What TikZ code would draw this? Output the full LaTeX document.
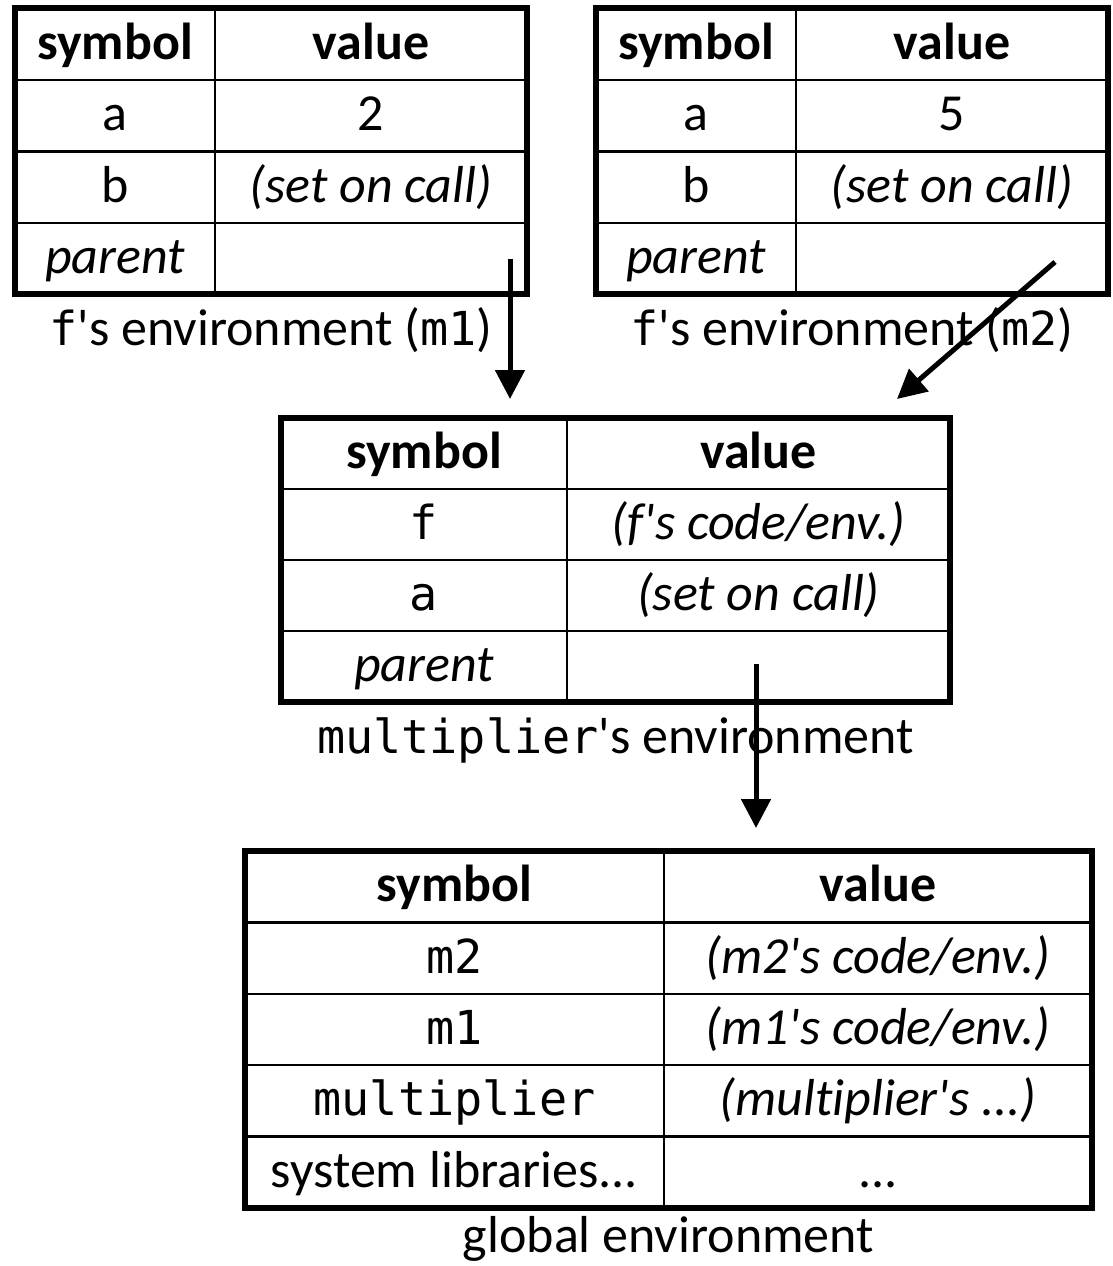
\documentclass[tikz,border=0pt]{standalone}
\usepackage{fontspec}
\setmainfont{Carlito}[Ligatures=NoCommon]
\setmonofont{DejaVu Sans Mono}[Scale=0.9]
\usepackage{tikz}
\usetikzlibrary{arrows.meta,positioning}
\newcommand{\envfont}{\fontsize{52pt}{60pt}\selectfont}
\newcommand{\sq}{\textquotesingle}

\begin{document}
\begin{tikzpicture}[x=1pt, y=-1pt,
    cell/.style={draw, line width=2.5pt, inner sep=0pt, outer sep=0pt,
        text height=38pt, text depth=8pt, font=\envfont},
    frame/.style={draw, line width=6pt},
    caption/.style={inner sep=0pt, anchor=base, font=\envfont},
    link/.style={-{Triangle[length=29pt, width=29pt]}, line width=5pt}
]
    \useasboundingbox (0,0) rectangle (1112,1266);

    % f's environment (m1)
    \begin{scope}[every node/.style={cell, minimum height=71.5pt}]
        \node[minimum width=200pt] (m1h1) at (115,44) {\bfseries symbol};
        \node[minimum width=312pt] (m1h2) at (371,44) {\bfseries value};
        \node[minimum width=200pt] (m1a1) at (115,115.5) {a};
        \node[minimum width=312pt] (m1a2) at (371,115.5) {2};
        \node[minimum width=200pt] (m1b1) at (115,187) {b};
        \node[minimum width=312pt] (m1b2) at (371,187) {\itshape (set on call)};
        \node[minimum width=200pt] (m1p1) at (115,258.5) {\itshape parent};
        \node[minimum width=312pt] (m1p2) at (371,258.5) {};
    \end{scope}
    \draw[frame] (m1h1.north west) rectangle (m1p2.south east);
    \node[caption] (m1cap) at (271,345) {\texttt{f}\sq s environment (\texttt{m1})};

    % f's environment (m2)
    \begin{scope}[every node/.style={cell, minimum height=71.5pt}]
        \node[minimum width=200pt] (m2h1) at (696,44) {\bfseries symbol};
        \node[minimum width=312pt] (m2h2) at (952,44) {\bfseries value};
        \node[minimum width=200pt] (m2a1) at (696,115.5) {a};
        \node[minimum width=312pt] (m2a2) at (952,115.5) {5};
        \node[minimum width=200pt] (m2b1) at (696,187) {b};
        \node[minimum width=312pt] (m2b2) at (952,187) {\itshape (set on call)};
        \node[minimum width=200pt] (m2p1) at (696,258.5) {\itshape parent};
        \node[minimum width=312pt] (m2p2) at (952,258.5) {};
    \end{scope}
    \draw[frame] (m2h1.north west) rectangle (m2p2.south east);
    \node[caption] (m2cap) at (852,345) {\texttt{f}\sq s environment (\texttt{m2})};

    % multiplier's environment
    \begin{scope}[every node/.style={cell, minimum height=71pt}]
        \node[minimum width=286pt] (mph1) at (424,453.5) {\bfseries symbol};
        \node[minimum width=383pt] (mph2) at (758.5,453.5) {\bfseries value};
        \node[minimum width=286pt] (mpf1) at (424,524.5) {\texttt{f}};
        \node[minimum width=383pt] (mpf2) at (758.5,524.5) {\itshape (f\sq s code/env.)};
        \node[minimum width=286pt] (mpa1) at (424,595.5) {\texttt{a}};
        \node[minimum width=383pt] (mpa2) at (758.5,595.5) {\itshape (set on call)};
        \node[minimum width=286pt] (mpp1) at (424,666.5) {\itshape parent};
        \node[minimum width=383pt] (mpp2) at (758.5,666.5) {};
    \end{scope}
    \draw[frame] (mph1.north west) rectangle (mpp2.south east);
    \node[caption] (mpcap) at (615.5,753) {\texttt{multiplier}\sq s environment};

    % global environment
    \begin{scope}[every node/.style={cell, minimum height=71.4pt}]
        \node[minimum width=419pt] (glh1) at (454.5,886.7) {\bfseries symbol};
        \node[minimum width=428pt] (glh2) at (878,886.7) {\bfseries value};
        \node[minimum width=419pt] (glm21) at (454.5,958.1) {\texttt{m2}};
        \node[minimum width=428pt] (glm22) at (878,958.1) {\itshape (m2\sq s code/env.)};
        \node[minimum width=419pt] (glm11) at (454.5,1029.5) {\texttt{m1}};
        \node[minimum width=428pt] (glm12) at (878,1029.5) {\itshape (m1\sq s code/env.)};
        \node[minimum width=419pt] (glmp1) at (454.5,1100.9) {\texttt{multiplier}};
        \node[minimum width=428pt] (glmp2) at (878,1100.9) {\itshape (multiplier\sq s ...)};
        \node[minimum width=419pt] (glsy1) at (454.5,1172.3) {system libraries...};
        \node[minimum width=428pt] (glsy2) at (878,1172.3) {...};
    \end{scope}
    \draw[frame] (glh1.north west) rectangle (glsy2.south east);
    \node[caption] (glcap) at (668.5,1252) {global environment};

    % parent links
    \coordinate (m1src) at (510,259);
    \coordinate (m1tip) at (510,399);
    \coordinate (m2src) at (1055,262);
    \coordinate (m2tip) at (897,399);
    \coordinate (mpsrc) at (756,664);
    \coordinate (mptip) at (756,828);
    \draw[link] (m1src) -- (m1tip);
    \draw[link] (m2src) -- (m2tip);
    \draw[link] (mpsrc) -- (mptip);
\end{tikzpicture}
\end{document}
